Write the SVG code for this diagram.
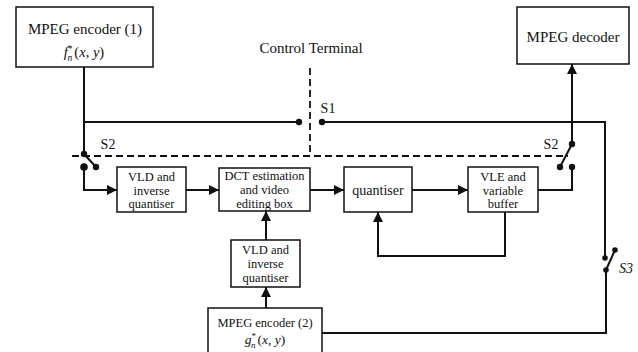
<svg xmlns="http://www.w3.org/2000/svg" width="638" height="352" viewBox="0 0 638 352">
<defs>
<style>
.box{fill:#fff;stroke:#111;stroke-width:1.5}
.ln{fill:none;stroke:#111;stroke-width:2}
.dash{fill:none;stroke:#111;stroke-width:1.8;stroke-dasharray:7,4}
.t{font-family:"Liberation Serif",serif;fill:#111;text-anchor:middle}
.s{font-size:12.5px}
.dot{fill:#111}
</style>
<marker id="ah" viewBox="0 0 10 10" refX="10" refY="5" markerWidth="5" markerHeight="5" orient="auto" markerUnits="strokeWidth">
<path d="M0,0 L10,5 L0,10 z" fill="#111"/>
</marker>
</defs>
<rect width="638" height="352" fill="#fff"/>

<g id="connectors">
<path class="ln" d="M84,67 V154"/>
<path class="ln" d="M84,122 H299"/>
<path class="ln" d="M322,122 H605 V258"/>
<path class="ln" d="M84,154 L96,167" stroke-width="1.6"/>
<path class="ln" d="M84,167 V190 H117" marker-end="url(#ah)"/>
<path class="ln" d="M186,190 H219" marker-end="url(#ah)"/>
<path class="ln" d="M310,190 H344" marker-end="url(#ah)"/>
<path class="ln" d="M412,190 H468" marker-end="url(#ah)"/>
<path class="ln" d="M538,190 H572 V167"/>
<path class="ln" d="M560,167 L572,144" stroke-width="1.6"/>
<path class="ln" d="M572,144 V64" marker-end="url(#ah)"/>
<path class="ln" d="M505,212 V256 H378 V212" marker-end="url(#ah)"/>
<path class="ln" d="M606,270 L615,250" stroke-width="1.6"/>
<path class="ln" d="M606,270 V333 H322"/>
<path class="ln" d="M266,308 V287" marker-end="url(#ah)"/>
<path class="ln" d="M266,240 V211" marker-end="url(#ah)"/>
<path class="dash" d="M310,68 V156"/>
<path class="dash" d="M72,156 H568"/>
<circle class="dot" cx="299" cy="122" r="3.2"/>
<circle class="dot" cx="322" cy="122" r="3.2"/>
<circle class="dot" cx="84" cy="154" r="3.2"/>
<circle class="dot" cx="84" cy="167" r="3.8"/>
<circle class="dot" cx="96" cy="167" r="3.2"/>
<circle class="dot" cx="560" cy="167" r="3.2"/>
<circle class="dot" cx="572" cy="167" r="3.2"/>
<circle class="dot" cx="572" cy="144" r="3.2"/>
<circle class="dot" cx="605" cy="258" r="2.8"/>
<circle class="dot" cx="615" cy="250" r="2.8"/>
<circle class="dot" cx="606" cy="270" r="2.8"/>
<text class="t" x="311" y="53" font-size="15">Control Terminal</text>
<text class="t" x="328" y="113" font-size="14">S1</text>
<text class="t" x="108" y="149" font-size="14">S2</text>
<text class="t" x="551" y="149" font-size="14">S2</text>
<text class="t" x="626" y="273" font-size="14" font-style="italic">S3</text>
</g>

<g id="enc1">
<rect class="box" x="16" y="7" width="137" height="60"/>
<text class="t" x="85" y="34" font-size="15">MPEG encoder (1)</text>
<text class="t" x="84" y="57" font-size="14.5"><tspan font-style="italic">f</tspan><tspan font-size="9.5" dy="-5">*</tspan><tspan font-size="9.5" font-style="italic" dx="-5" dy="9">n</tspan><tspan dy="-4" dx="2">(</tspan><tspan font-style="italic">x</tspan><tspan>, </tspan><tspan font-style="italic">y</tspan><tspan>)</tspan></text>
</g>

<g id="decoder">
<rect class="box" x="517" y="7" width="112" height="57"/>
<text class="t" x="573" y="42" font-size="15">MPEG decoder</text>
</g>

<g id="vld1">
<rect class="box" x="117" y="167" width="69" height="45"/>
<text class="t s" x="151.5" y="181">VLD and</text>
<text class="t s" x="151.5" y="194.5">inverse</text>
<text class="t s" x="151.5" y="208">quantiser</text>
</g>

<g id="dct">
<rect class="box" x="219" y="168" width="91" height="43"/>
<text class="t" x="264.5" y="180" font-size="12.5">DCT estimation</text>
<text class="t" x="264.5" y="194" font-size="12.5">and  video</text>
<text class="t" x="264.5" y="208" font-size="12.5">editing box</text>
</g>

<g id="quantiser">
<rect class="box" x="344" y="167" width="68" height="45"/>
<text class="t" x="378" y="195" font-size="14">quantiser</text>
</g>

<g id="vle">
<rect class="box" x="468" y="167" width="70" height="45"/>
<text class="t s" x="503" y="181">VLE and</text>
<text class="t s" x="503" y="194.5">variable</text>
<text class="t s" x="503" y="208">buffer</text>
</g>

<g id="vld2">
<rect class="box" x="231" y="240" width="69" height="47"/>
<text class="t s" x="265.5" y="254">VLD and</text>
<text class="t s" x="265.5" y="268">inverse</text>
<text class="t s" x="265.5" y="282">quantiser</text>
</g>

<g id="enc2">
<rect class="box" x="208" y="308" width="114" height="50"/>
<text class="t" x="265" y="327" font-size="12.5">MPEG encoder (2)</text>
<text class="t" x="265" y="344" font-size="13.5"><tspan font-style="italic">g</tspan><tspan font-size="9" dy="-5">*</tspan><tspan font-size="9" font-style="italic" dx="-5" dy="9">n</tspan><tspan dy="-4" dx="2">(</tspan><tspan font-style="italic">x</tspan><tspan>, </tspan><tspan font-style="italic">y</tspan><tspan>)</tspan></text>
</g>
</svg>
